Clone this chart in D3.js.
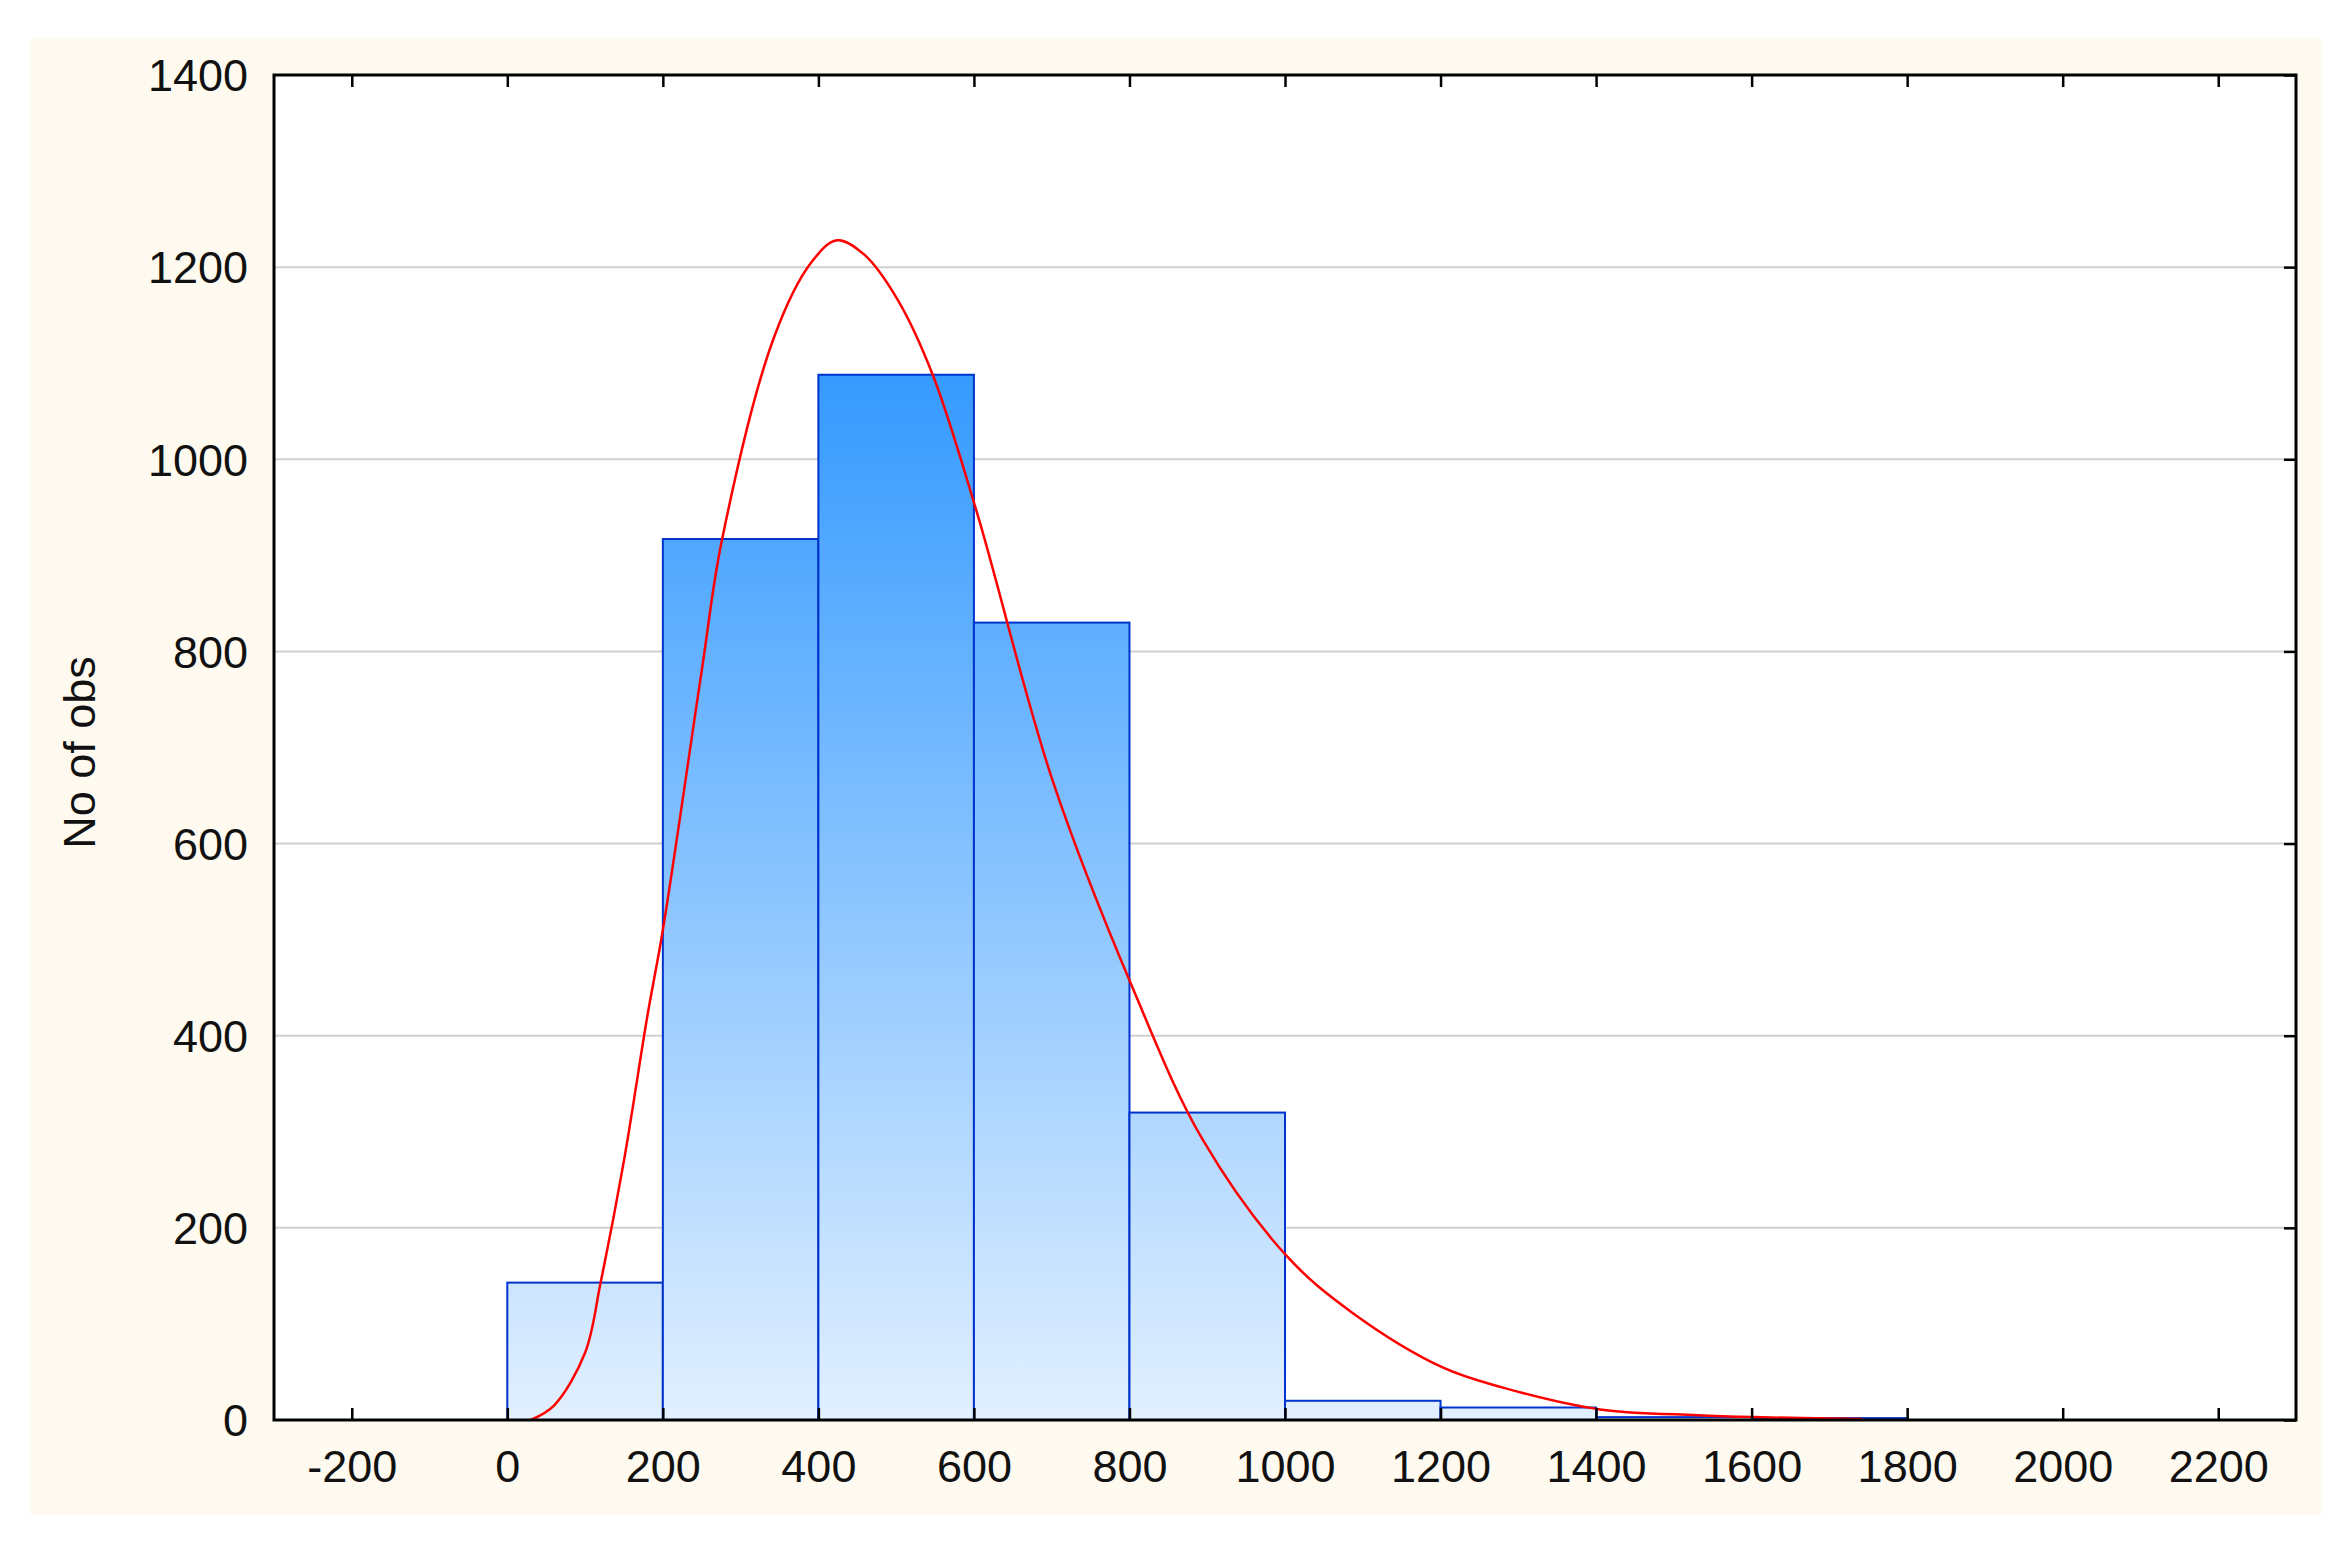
<!DOCTYPE html>
<html>
<head>
<meta charset="utf-8">
<script src="https://cdn.jsdelivr.net/npm/d3@7"></script>
<style>
  body { margin: 0; background: #fff; }
  text { font-family: "Liberation Sans", Arial, sans-serif; fill: #111; }
</style>
</head>
<body>
<svg id="chart" width="2346" height="1550"></svg>
<script>
// histogram bins (lower edge), counts
var binStart = [0, 200, 400, 600, 800, 1000, 1200, 1400, 1600];
var binCount = [143, 917, 1088, 830, 320, 20, 13, 3, 2];
var binWidth = 200;

// fitted curve
var curveX = [30, 60, 100, 120, 150, 180, 200, 250, 276, 343, 391, 424, 459, 502, 547, 603, 701, 805, 894, 1003, 1086, 1202, 1279, 1405, 1530, 1603, 1742];
var curveY = [0, 15, 70, 143, 270, 420, 510, 780, 916, 1127, 1205, 1228, 1213, 1166, 1088, 947, 666, 448, 292, 170, 112, 55, 34, 11, 5, 3, 1];

var xTicks = [-200, 0, 200, 400, 600, 800, 1000, 1200, 1400, 1600, 1800, 2000, 2200];
var yTicks = [0, 200, 400, 600, 800, 1000, 1200, 1400];

var svg = d3.select("#chart");
var pLeft = 274, pRight = 2296, pTop = 75, pBottom = 1420;
var fmt = function (d) { return String(d); };

// cream background panel
svg.append("rect").attr("x", 30).attr("y", 38).attr("width", 2292).attr("height", 1477).attr("fill", "#fefaf0");
svg.append("rect").attr("x", pLeft).attr("y", pTop).attr("width", pRight - pLeft).attr("height", pBottom - pTop).attr("fill", "#fff");

var x = d3.scaleLinear().domain([-300, 2300]).range([pLeft, pRight]);
var y = d3.scaleLinear().domain([0, 1400]).range([pBottom, pTop]);

var grad = svg.append("defs").append("linearGradient")
    .attr("id", "barGrad").attr("gradientUnits", "userSpaceOnUse")
    .attr("x1", 0).attr("x2", 0).attr("y1", y(1100)).attr("y2", y(0));
grad.append("stop").attr("offset", "0%").attr("stop-color", "#3399ff");
grad.append("stop").attr("offset", "100%").attr("stop-color", "#e2f0ff");

// gridlines
svg.selectAll(".grid").data(yTicks.slice(1, -1)).enter().append("line")
    .attr("x1", pLeft).attr("x2", pRight)
    .attr("y1", function (d) { return y(d); }).attr("y2", function (d) { return y(d); })
    .attr("stroke", "#d0d0d0").attr("stroke-width", 2);

// bars
svg.selectAll(".bar").data(binStart).enter().append("rect")
    .attr("x", function (d) { return x(d); })
    .attr("width", function (d) { return x(d + binWidth) - x(d); })
    .attr("y", function (d, i) { return y(binCount[i]); })
    .attr("height", function (d, i) { return pBottom - y(binCount[i]); })
    .attr("fill", "url(#barGrad)")
    .attr("stroke", "#0033cc").attr("stroke-width", 2);

// fitted curve
var line = d3.line().x(function (d, i) { return x(curveX[i]); }).y(function (d) { return y(d); }).curve(d3.curveCatmullRom);
svg.append("path").datum(curveY).attr("d", line)
    .attr("fill", "none").attr("stroke", "#ff0000").attr("stroke-width", 2.5);

// frame
svg.append("rect").attr("x", pLeft).attr("y", pTop).attr("width", pRight - pLeft).attr("height", pBottom - pTop)
    .attr("fill", "none").attr("stroke", "#000").attr("stroke-width", 3);

// axes
var xAxis = svg.append("g").attr("transform", "translate(0," + pBottom + ")")
    .call(d3.axisBottom(x).tickValues(xTicks).tickSize(-12).tickPadding(30).tickFormat(fmt));
var xTop = svg.append("g").attr("transform", "translate(0," + pTop + ")")
    .call(d3.axisTop(x).tickValues(xTicks).tickSize(-12).tickFormat(""));
var yAxis = svg.append("g").attr("transform", "translate(" + pLeft + ",0)")
    .call(d3.axisLeft(y).tickValues(yTicks).tickSize(0).tickPadding(26).tickFormat(fmt));
var yRight = svg.append("g").attr("transform", "translate(" + pRight + ",0)")
    .call(d3.axisRight(y).tickValues(yTicks).tickSize(-12).tickFormat(""));

[xAxis, xTop, yAxis, yRight].forEach(function (g) {
    g.select(".domain").remove();
    g.selectAll("line").attr("stroke", "#000").attr("stroke-width", 2.5);
    g.selectAll("text").style("font-size", "45px").attr("fill", "#111");
});
yAxis.selectAll("text").attr("dy", "0.35em");

svg.append("text")
    .attr("transform", "translate(95," + ((pTop + pBottom) / 2 + 5) + ") rotate(-90)")
    .attr("text-anchor", "middle").style("font-size", "45px")
    .text("No of obs");
</script>
</body>
</html>
